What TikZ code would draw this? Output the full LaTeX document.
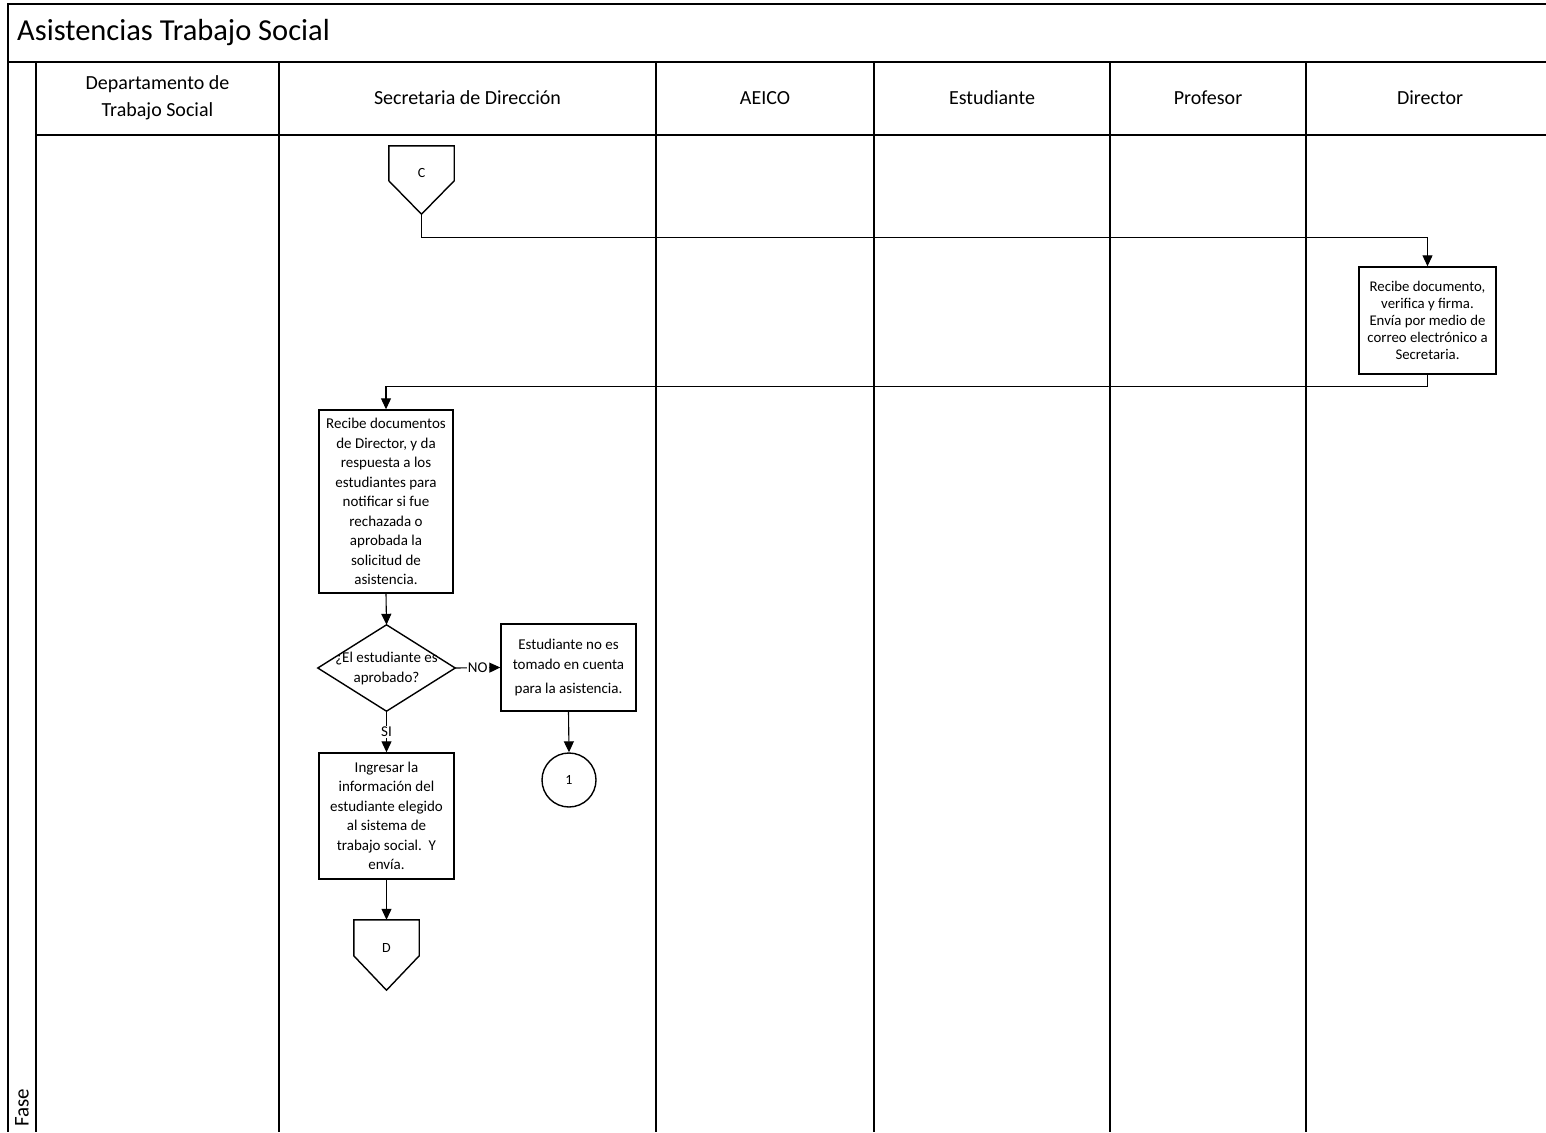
\documentclass[tikz,border=0pt]{standalone}
\usepackage{fontspec}
\setmainfont{Carlito}
\usetikzlibrary{arrows.meta}

\begin{document}
\begin{tikzpicture}[x=1pt,y=-1pt,
  frame/.style={line width=1.8pt},
  proc/.style={draw, line width=1.4pt, align=center, inner sep=1pt,
    font=\fontsize{15}{19.5}\selectfont},
  blank/.style={draw=none, inner sep=0pt},
  conn/.style={line width=1.1pt, -{Triangle[length=11pt,width=10pt]}},
  lab/.style={fill=white, inner sep=1pt, font=\fontsize{15}{17}\selectfont},
  lanehead/.style={align=center, font=\fontsize{20}{27}\selectfont},
  small/.style={font=\fontsize{14}{16}\selectfont}
]
\useasboundingbox (0,0) rectangle (1546,1132);

% pool frame and lanes
\draw[frame] (1546,4) -- (8,4) -- (8,1132);
\draw[frame] (8,62) -- (1546,62);
\draw[frame] (36,62) -- (36,1132);
\draw[frame] (36,135) -- (1546,135);
\foreach \xx in {279,656,874,1110,1306}
  \draw[frame] (\xx,62) -- (\xx,1132);

\node[anchor=west, inner sep=0pt, font=\fontsize{30.5}{34}\selectfont] (title) at (17,33) {Asistencias Trabajo Social};
\node[rotate=90, anchor=west, font=\fontsize{21}{24}\selectfont] (fase) at (22,1130) {Fase};

\node[lanehead] (h1) at (157.5,98) {Departamento de\\Trabajo Social};
\node[lanehead] (h2) at (467.5,98) {Secretaria de Dirección};
\node[lanehead] (h3) at (765,98) {AEICO};
\node[lanehead] (h4) at (992,98) {Estudiante};
\node[lanehead] (h5) at (1208,98) {Profesor};
\node[lanehead] (h6) at (1430,98) {Director};

% off-page connector C
\node[blank, minimum width=65, minimum height=68] (c) at (421.5,180) {};
\draw[line width=1.4pt] (c.north west) -- ([yshift=-35pt]c.north west) -- (c.south)
  -- ([yshift=-35pt]c.north east) -- (c.north east) -- cycle;
\node[small] (clab) at (421.5,173) {C};

% Director
\node[proc, minimum width=137, minimum height=107, font=\fontsize{14.8}{16.8}\selectfont] (dir) at (1427.5,320.5)
  {Recibe documento,\\verifica y firma.\\Envía por medio de\\correo electrónico a\\Secretaria.};

% Secretaria
\node[proc, minimum width=134, minimum height=183] (sec) at (386,501.5)
  {Recibe documentos\\de Director, y da\\respuesta a los\\estudiantes para\\notificar si fue\\rechazada o\\aprobada la\\solicitud de\\asistencia.};

% decision
\node[blank, minimum width=137, minimum height=86] (q) at (386.5,668) {};
\draw[line width=1.4pt] (q.north) -- (q.east) -- (q.south) -- (q.west) -- cycle;
\node[align=center, inner sep=0pt, font=\fontsize{15}{20}\selectfont] (qtext) at (386.5,668)
  {¿El estudiante es\\aprobado?};

\node[proc, minimum width=135, minimum height=87] (nob) at (568.5,667.5)
  {Estudiante no es\\tomado en cuenta\\[5pt]para la asistencia.};

\node[draw, circle, line width=1.4pt, minimum size=54, inner sep=0pt, small] (one) at (569,780) {1};

\node[proc, minimum width=135, minimum height=126] (ing) at (386.5,816)
  {Ingresar la\\información del\\estudiante elegido\\al sistema de\\trabajo social.~~Y\\envía.};

% off-page connector D
\node[blank, minimum width=65, minimum height=70] (d) at (386.5,955) {};
\draw[line width=1.4pt] (d.north west) -- ([yshift=-36pt]d.north west) -- (d.south)
  -- ([yshift=-36pt]d.north east) -- (d.north east) -- cycle;
\node[small] (dlab) at (386.5,948) {D};

% connectors
\draw[conn] (c.south) -- ++(0,23) -| (dir.north);
\draw[conn] (dir.south) -- ++(0,12) -| (sec.north);
\draw[conn] (sec.south) -- (q.north);
\draw[conn] (q.east) -- node[lab] {NO} (nob.west);
\draw[conn] (nob.south) -- (one.north);
\draw[conn] (q.south) -- node[lab] {SI} (ing.north);
\draw[conn] (ing.south) -- (d.north);
\end{tikzpicture}
\end{document}
